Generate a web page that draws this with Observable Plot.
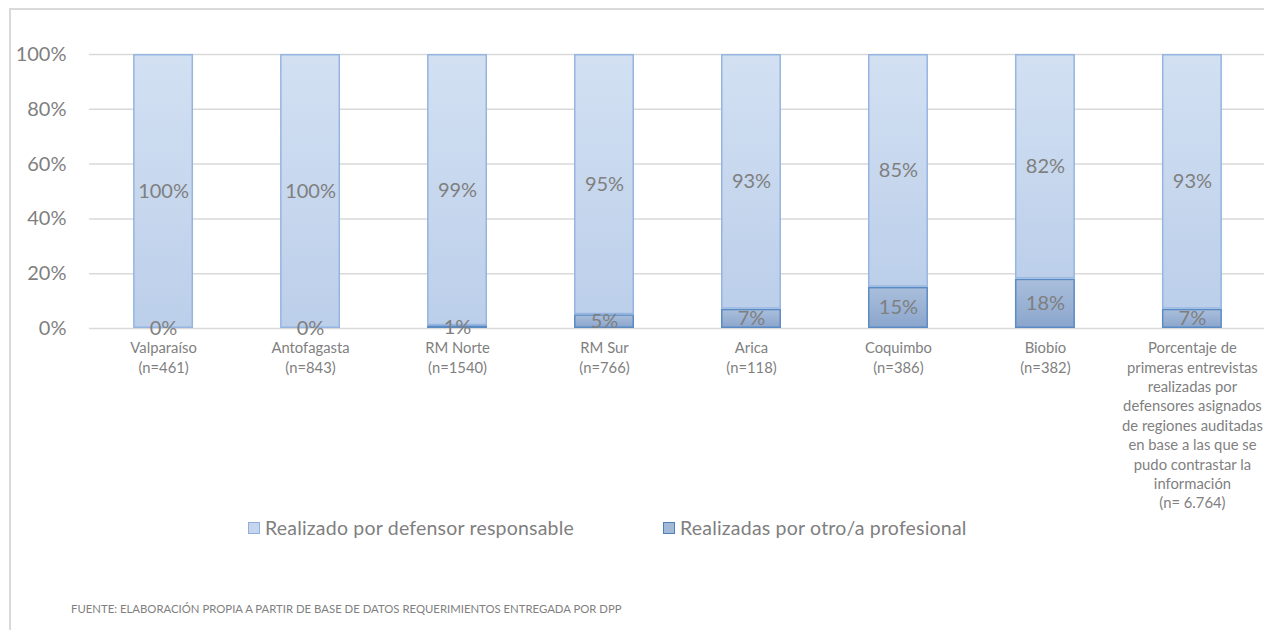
<!DOCTYPE html>
<html>
<head>
<meta charset="utf-8">
<script src="https://cdn.jsdelivr.net/npm/d3@7"></script>
<script src="https://cdn.jsdelivr.net/npm/@observablehq/plot@0.6"></script>
<style>
  body { margin: 0; background: #fff; font-family: Lato, "Open Sans", sans-serif; }
  #wrap { position: relative; width: 1264px; height: 630px; overflow: hidden; }
  #frame { position: absolute; left: 9px; top: 8px; width: 1400px; height: 800px;
           border-left: 2px solid #d9d9d9; border-top: 2px solid #d9d9d9; }
  #chart { position: absolute; left: 0; top: 0; }
  .leg { position: absolute; top: 516px; font-size: 19.5px; letter-spacing: 0.2px; color: #7f7f7f; display: flex; align-items: center; white-space: nowrap; }
  .sw { width: 10px; height: 10px; margin-right: 5px; }
  #caption { position: absolute; left: 71px; top: 602px; font-size: 11.35px; color: #7f7f7f; }
</style>
</head>
<body>
<div id="wrap">
  <div id="frame"></div>
  <div id="chart"></div>
  <div class="leg" style="left:248px"><div class="sw" style="background:#C5D6EE;border:1px solid #8FB0DC"></div><span id="leg1"></span></div>
  <div class="leg" style="left:663px"><div class="sw" style="background:#A3B9D8;border:1px solid #4F81BD"></div><span id="leg2"></span></div>
  <div id="caption"></div>
</div>
<script>
const categories = [
  "Valparaíso\n(n=461)",
  "Antofagasta\n(n=843)",
  "RM Norte\n(n=1540)",
  "RM Sur\n(n=766)",
  "Arica\n(n=118)",
  "Coquimbo\n(n=386)",
  "Biobío\n(n=382)",
  "Porcentaje de\nprimeras entrevistas\nrealizadas por\ndefensores asignados\nde regiones auditadas\nen base a las que se\npudo contrastar la\ninformación\n(n= 6.764)"
];
const responsable = [100, 100, 99, 95, 93, 85, 82, 93];
const otro = [0, 0, 1, 5, 7, 15, 18, 7];
const seriesNames = ["Realizado por defensor responsable", "Realizadas por otro/a profesional"];
const yTicks = [0, 20, 40, 60, 80, 100];
const captionText = "FUENTE: ELABORACIÓN PROPIA A PARTIR DE BASE DE DATOS REQUERIMIENTOS ENTREGADA POR DPP";

const rows = categories.map((c, i) => ({cat: c, resp: responsable[i], otro: otro[i]}));

const gray = "#7f7f7f";
const chart = Plot.plot({
  width: 1264,
  height: 520,
  marginLeft: 89,
  marginRight: 0,
  marginTop: 54,
  marginBottom: 192,
  style: {fontFamily: "Lato, 'Open Sans', sans-serif", color: gray, background: "transparent"},
  x: {domain: categories, range: [89, 1266], round: false, paddingInner: 0.592, paddingOuter: 0.3, label: null},
  y: {domain: [0, 100], label: null},
  marks: [
    Plot.gridY(yTicks, {stroke: "#d9d9d9", strokeOpacity: 1, strokeWidth: 1.5}),
    Plot.axisY(yTicks, {tickSize: 0, tickPadding: 23, fontSize: 20, tickFormat: d => d + "%", fill: gray}),
    Plot.axisX({tickSize: 0, tickPadding: 11, fontSize: 14.8, lineHeight: 1.31, fill: gray}),
    Plot.barY(rows, {x: "cat", y1: 0, y2: "otro", fill: "url(#gDark)", stroke: "#5B8BC4", strokeWidth: 1.5, inset: 0.75}),
    Plot.barY(rows, {x: "cat", y1: "otro", y2: d => d.otro + d.resp, fill: "url(#gLight)", stroke: "#95B5E0", strokeWidth: 1.5, inset: 0.75}),
    Plot.text(rows, {x: "cat", y: d => d.otro + d.resp / 2, text: d => d.resp + "%", fontSize: 20, fill: gray}),
    Plot.text(rows, {x: "cat", y: d => d.otro / 2, text: d => d.otro + "%", fontSize: 20, fill: gray})
  ]
});

const ns = "http://www.w3.org/2000/svg";
const defs = document.createElementNS(ns, "defs");
function grad(id, top, bottom) {
  const g = document.createElementNS(ns, "linearGradient");
  g.setAttribute("id", id);
  g.setAttribute("x1", "0"); g.setAttribute("y1", "0");
  g.setAttribute("x2", "0"); g.setAttribute("y2", "1");
  [[0, top], [1, bottom]].forEach(([o, c]) => {
    const s = document.createElementNS(ns, "stop");
    s.setAttribute("offset", o);
    s.setAttribute("stop-color", c);
    g.appendChild(s);
  });
  defs.appendChild(g);
}
grad("gLight", "#D2E0F2", "#BCCFEA");
grad("gDark", "#A9BEDB", "#8BA6CD");
chart.insertBefore(defs, chart.firstChild);

document.getElementById("chart").appendChild(chart);
document.getElementById("leg1").textContent = seriesNames[0];
document.getElementById("leg2").textContent = seriesNames[1];
document.getElementById("caption").textContent = captionText;
</script>
</body>
</html>
